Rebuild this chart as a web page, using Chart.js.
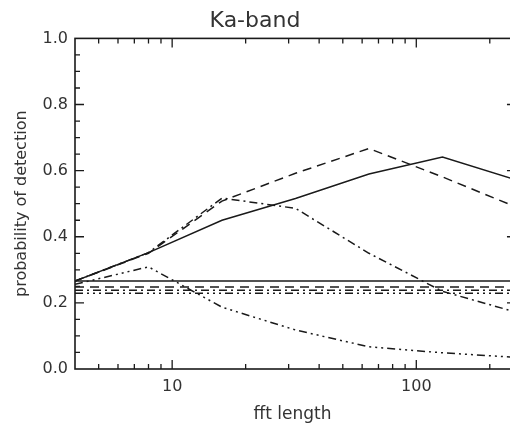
<!DOCTYPE html>
<html>
<head>
<meta charset="utf-8">
<script src="https://cdn.jsdelivr.net/npm/chart.js@4.4.1/dist/chart.umd.min.js"></script>
<style>
    html, body { margin: 0; padding: 0; background: #fff; overflow: hidden; }
    #wrap { width: 510px; height: 426px; }
</style>
</head>
<body>
<div id="wrap"><canvas id="mycanvas" width="510" height="426"></canvas></div>
<script>
// fft lengths (x) and probability of detection for each curve
var fftLengths = [4, 8, 16, 32, 64, 128, 256];
var pdSolid = [0.266, 0.352, 0.450, 0.516, 0.590, 0.641, 0.572];
var pdDashed = [0.266, 0.350, 0.508, 0.592, 0.667, 0.581, 0.490];
var pdDashDot = [0.266, 0.352, 0.517, 0.486, 0.350, 0.235, 0.172];
var pdDashDotDot = [0.256, 0.309, 0.187, 0.118, 0.067, 0.049, 0.035];

// flat reference levels, same order of line styles as the curves
var flatLevels = [0.266, 0.248, 0.238, 0.229];

var yTickLabels = ['0.0', '0.2', '0.4', '0.6', '0.8', '1.0'];
var xTickLabels = [10, 100];
var xMinorTicks = [5, 6, 7, 8, 9, 20, 30, 40, 50, 60, 70, 80, 90, 200];

var ink = '#1a1a1a';
var textCol = '#333333';
var styles = [[], [9, 6], [8, 4, 2, 4], [8, 4, 2, 4, 2, 4, 2, 4]];

function pts(ys) {
    return ys.map(function (v, i) { return {x: fftLengths[i], y: v}; });
}

var datasets = [];
[pdSolid, pdDashed, pdDashDot, pdDashDotDot].forEach(function (ys, i) {
    datasets.push({
        data: pts(ys),
        borderColor: ink,
        borderWidth: 1.5,
        borderDash: styles[i],
        pointRadius: 0,
        fill: false,
        tension: 0
    });
});
flatLevels.forEach(function (v, i) {
    datasets.push({
        data: [{x: fftLengths[0], y: v}, {x: fftLengths[fftLengths.length - 1], y: v}],
        borderColor: ink,
        borderWidth: 1.5,
        borderDash: styles[i],
        pointRadius: 0,
        fill: false
    });
});

// IDL style frame with inward ticks
var frameTicks = {
    id: 'frameTicks',
    afterDatasetsDraw: function (chart) {
        var ctx = chart.ctx, a = chart.chartArea;
        var x = chart.scales.x, y = chart.scales.y;
        var right = x.getPixelForValue(fftLengths[fftLengths.length - 1]);
        ctx.save();
        ctx.strokeStyle = ink;
        ctx.lineWidth = 1.6;
        ctx.strokeRect(a.left, a.top, right - a.left, a.bottom - a.top);
        ctx.lineWidth = 1.3;
        ctx.beginPath();
        for (var i = 1; i < 20; i++) {
            var py = y.getPixelForValue(i * 0.05);
            var len = (i % 4 === 0) ? 9 : 5;
            ctx.moveTo(a.left, py); ctx.lineTo(a.left + len, py);
            ctx.moveTo(right, py); ctx.lineTo(right - len, py);
        }
        xMinorTicks.concat(xTickLabels).forEach(function (v) {
            var px = x.getPixelForValue(v);
            var len = xTickLabels.indexOf(v) >= 0 ? 9 : 5;
            ctx.moveTo(px, a.bottom); ctx.lineTo(px, a.bottom - len);
            ctx.moveTo(px, a.top); ctx.lineTo(px, a.top + len);
        });
        ctx.stroke();
        ctx.restore();
    }
};

var ctx = document.getElementById('mycanvas');
var chart = new Chart(ctx, {
    type: 'line',
    data: {datasets: datasets},
    plugins: [frameTicks],
    options: {
        responsive: false,
        animation: false,
        devicePixelRatio: 1,
        layout: {padding: 0},
        plugins: {
            legend: {display: false},
            tooltip: {enabled: false},
            title: {
                display: true,
                text: 'Ka-band',
                color: textCol,
                font: {family: 'DejaVu Sans', size: 22, weight: 'normal'},
                padding: {top: 8, bottom: 4}
            }
        },
        scales: {
            x: {
                type: 'logarithmic',
                min: 4,
                max: 242,
                grid: {display: false, drawTicks: false},
                border: {display: false},
                ticks: {
                    autoSkip: false,
                    maxRotation: 0,
                    padding: 8,
                    color: textCol,
                    font: {family: 'DejaVu Sans', size: 16},
                    callback: function (v) {
                        var r = Math.round(v);
                        return xTickLabels.indexOf(r) >= 0 ? String(r) : '';
                    }
                },
                title: {
                    display: true,
                    text: 'fft length',
                    color: textCol,
                    font: {family: 'DejaVu Sans', size: 17},
                    padding: {top: 0, bottom: 1}
                },
                afterFit: function (s) {
                    s.height = 57;
                    s.paddingLeft = 0;
                    s.paddingRight = 0;
                }
            },
            y: {
                min: 0,
                max: 1,
                grid: {display: false, drawTicks: false},
                border: {display: false},
                ticks: {
                    stepSize: 0.2,
                    padding: 7,
                    color: textCol,
                    font: {family: 'DejaVu Sans', size: 16},
                    callback: function (v) {
                        return yTickLabels[Math.round(v / 0.2)];
                    }
                },
                title: {
                    display: true,
                    text: 'probability of detection',
                    color: textCol,
                    font: {family: 'DejaVu Sans', size: 16},
                    padding: {top: 12, bottom: 0}
                },
                afterFit: function (s) { s.width = 75; }
            }
        }
    }
});
</script>
</body>
</html>
